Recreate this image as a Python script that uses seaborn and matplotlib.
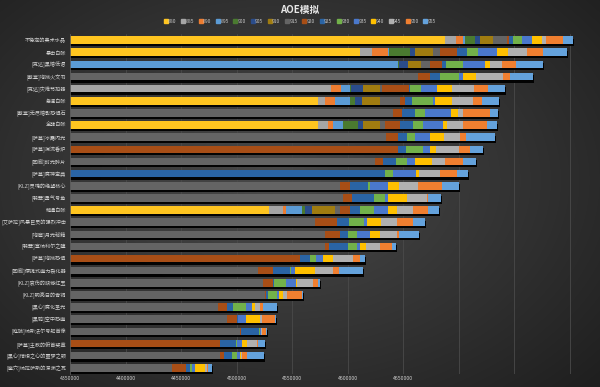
import numpy as np
import pandas as pd
import matplotlib
matplotlib.use("Agg")
import matplotlib.pyplot as plt
import matplotlib.patheffects as pe
from matplotlib.colors import LinearSegmentedColormap
from matplotlib.lines import Line2D
import seaborn as sns

# ── Data: simulated AOE DPS of each trinket at each item level ─────────────
ILVLS = [880, 885, 890, 895, 900, 905, 910, 915,
         920, 925, 930, 935, 940, 945, 950, 955]

TRINKETS = [
    "不稳定的奥术水晶", "暴击白帐", "[克达]黑暗低语", "[戴堂]地狱火文书",
    "[克达]灾难节拍器", "急速白帐", "[戴堂]无尽暗影恐惧石", "全能白帐",
    "[萨墓]冰霜闪光", "[萨墓]湍流香炉", "[回廊]时光碎片", "[萨墓]腐神宝典",
    "[KLZ]灵魂的绝望核心", "[翡翠]勇气号角", "精通白帐",
    "[艾萨拉]风暴巨灵的强烈冲击", "[地窟]月光秘籍", "[翡翠]塞纳利尔之瞳",
    "[萨墓]地狱恐惧", "[回廊]便携式魔力裂化器", "[KLZ]哀伤的缺憾红玉",
    "[KLZ]明亮日的青铜", "[黑心]腐化圣光", "[黑鸦]空中恐魔",
    "[庭院]纳斯法尔号船首像", "[萨墓]主教的俯首奖章",
    "[黑心]憎恨之心的噩梦之颈", "[魔穴]纳拉萨斯的深渊之瓦",
]

N = None
row01 = [4688000, 4697700, 4704000, 4706000, 4714900, 4719400, 4731100, 4743700,
         4745000, 4749100, 4757200, 4766200, 4775200, 4778800, 4794100, 4803200]
row02 = [4611300, 4622100, 4636500, 4637500, 4656300, 4660800, 4677000, 4683300,
         4698700, 4707700, 4717600, 4734700, 4744600, 4761700, 4776100, 4797800]
row03 = [N, N, N, 4645500, 4646500, 4654500, 4666200, 4674300,
         4685100, 4688700, 4704000, 4723900, 4728400, 4739200, 4751800, 4776100]
row04 = [N] * 7 + [4663500, 4674300, 4683300, 4700500, 4704000, 4715800, 4740100, 4746400, 4767100]
row05 = [N, 4585100, 4594100, 4602300, 4603000, 4614000, 4629300, 4630500,
         4655400, 4656500, 4666200, 4680600, 4694100, 4714000, 4726600, 4741900]
row06 = [4573400, 4579700, 4588700, 4602300, 4606800, 4613100, 4629300, 4647300,
         4651800, 4658100, 4677000, 4679000, 4694100, 4713100, 4721200, 4736500]
row07 = [N] * 7 + [4641000, 4649100, 4660800, 4669800, 4693200, 4699500, 4704000, 4728400, 4735600]
row08 = [4573400, 4582400, 4586900, 4596000, 4609500, 4614000, 4629300, 4633800,
         4647300, 4659000, 4668000, 4686000, 4689600, 4704000, 4725700, 4734700]
row09 = [N] * 7 + [4634700, 4645500, 4653600, 4660800, 4674300, 4686900, 4701400, 4706800, 4732900]
row10 = [N] * 8 + [4645500, 4652700, 4668000, 4674300, 4679700, 4700500, 4710400, 4722100]
row11 = [N] * 7 + [4624800, 4632000, 4643700, 4653600, 4660800, 4676100, 4687800, 4704000, 4715800]
row12 = [N] * 9 + [4633800, 4641000, 4661700, 4664400, 4683300, 4698700, 4708600]
row13 = [N] * 7 + [4593200, 4602300, 4618500, 4620300, 4636500, 4646400, 4663500, 4685100, 4700500]
row14 = [N] * 7 + [4596000, 4604100, 4623900, 4633800, 4636500, 4653600, 4671600, 4672500, 4684200]
row15 = [4529300, 4541900, 4544600, 4559000, 4561700, 4568000, 4588700, 4593200,
         4602300, 4611300, 4623900, 4636500, 4644600, 4659000, 4672500, 4682400]
row16 = [N] * 7 + [4570700, 4590500, 4601300, 4614900, 4617600, 4630200, 4644600, 4659000, 4669800]
row17 = [N] * 7 + [4579700, 4593200, 4600400, 4608600, 4620300, 4629300, 4644600, 4646400, 4664400]
row18 = [N] * 7 + [4579700, 4583300, 4600400, 4608600, 4611300, 4616700, 4629300, 4640100, 4643700]
row19 = [N] * 8 + [4557200, 4566200, 4571600, 4577900, 4586900, 4605000, 4611300, 4615800]
row20 = [N] * 7 + [4519400, 4532900, 4548000, 4549000, 4552700, 4570700, 4586900, 4592300, 4614000]
row21 = [N] * 7 + [4523900, 4532900, 4533500, 4544600, 4553600, 4554500, 4568900, 4573400, 4575200]
row22 = [N] * 7 + [4525700, 4526500, 4528400, 4536500, 4538300, 4541900, 4545500, 4559000, 4560000]
row23 = [N] * 7 + [4483300, 4491400, 4496800, 4508600, 4514000, 4516700, 4521200, 4523900, 4536500]
row24 = [N] * 7 + [4491400, 4500400, 4501000, 4501500, 4508600, 4521200, 4523000, 4534700, 4535500]
row25 = [N] * 7 + [4503200, 4504000, 4520300, 4520800, 4521500, 4522000, 4523000, 4526600, 4527500]
row26 = [N] * 8 + [4485100, 4499000, 4500000, 4505000, 4509500, 4518500, 4519200, 4525700]
row27 = [N] * 7 + [4485100, 4488700, 4496000, 4500400, 4503200, 4504000, 4505000, 4509500, 4524800]
row28 = [N] * 7 + [4441900, 4454500, 4458000, 4460000, 4462600, 4471600, 4473000, 4474500, 4477900]

ROWS = [row01, row02, row03, row04, row05, row06, row07, row08, row09, row10,
        row11, row12, row13, row14, row15, row16, row17, row18, row19, row20,
        row21, row22, row23, row24, row25, row26, row27, row28]

COLORS = ["#FFC520", "#A5A5A5", "#ED7D31", "#5B9BD5", "#4A7A30", "#2A4C8A",
          "#A07C10", "#646464", "#A84E16", "#2A64A4", "#72B14A", "#4A78CC",
          "#FFC000", "#B0B0B0", "#F07F30", "#64A2DC"]

# ── Build the frame (values are the stacked end points) ────────────────────
cols = [str(v) for v in ILVLS]
df = pd.DataFrame(ROWS, columns=cols, dtype=float).fillna(0)
df.insert(0, "trinket", TRINKETS)

sns.set_theme(style="dark")
plt.rcParams["font.family"] = ["Noto Sans CJK SC", "DejaVu Sans"]

fig = plt.figure(figsize=(6, 3.87), dpi=100)

# dark radial background
bg = fig.add_axes([0, 0, 1, 1], zorder=0)
yy, xx = np.mgrid[0:387, 0:600]
r = np.hypot((xx - 280) / 430.0, (yy - 180) / 300.0)
cmap_bg = LinearSegmentedColormap.from_list("bg", ["#1f1f1f", "#4a4a4a"])
bg.imshow(np.clip(1 - r, 0, 1), cmap=cmap_bg, aspect="auto", vmin=0, vmax=1)
bg.axis("off")

ax = fig.add_axes([0.117, 0.034, 0.866, 0.878], zorder=1)
ax.patch.set_alpha(0)

# stacked look: draw cumulative values from the top level down
for k in reversed(range(len(ILVLS))):
    n_before = len(ax.patches)
    sns.barplot(data=df, x=cols[k], y="trinket", order=TRINKETS, orient="h",
                color=COLORS[k], saturation=1, width=0.62, errorbar=None,
                linewidth=0, edgecolor="none", ax=ax)
    if k == len(ILVLS) - 1:
        for p in ax.patches[n_before:]:
            p.set_path_effects([pe.SimplePatchShadow(offset=(0.8, -1.6),
                                                     shadow_rgbFace="black", alpha=0.95),
                                pe.Normal()])

ax.set_xlim(4350000, 4818000)
ticks = list(range(4350000, 4800001, 50000))
ax.set_xticks(ticks)
ax.set_xticklabels([str(t) if t <= 4650000 else "" for t in ticks])
ax.set_xlabel("")
ax.set_ylabel("")
ax.grid(axis="x", color="#4a4a4a", linewidth=0.6)
ax.grid(axis="y", visible=False)
ax.set_axisbelow(True)
ax.tick_params(axis="both", colors="#cfcfcf", length=0)
ax.tick_params(axis="y", labelsize=3.7, pad=3)
ax.tick_params(axis="x", pad=1.5, labelsize=3.8)
for s in ["top", "right", "bottom"]:
    ax.spines[s].set_visible(False)
ax.spines["left"].set_color("#5a5a5a")
ax.spines["left"].set_linewidth(0.6)

fig.text(0.5, 0.975, "AOE模拟", ha="center", va="center",
         color="#e8e8e8", fontsize=7, fontweight="bold")

handles = [Line2D([], [], marker="s", linestyle="", markersize=2.3, color=c)
           for c in COLORS]
fig.legend(handles, cols, loc="center", bbox_to_anchor=(0.5, 0.945), ncol=16,
           frameon=False, fontsize=3.6, handlelength=0.6, handletextpad=0.2,
           columnspacing=1.0, labelcolor="#c8c8c8")

fig.savefig("out.png", dpi=100)
